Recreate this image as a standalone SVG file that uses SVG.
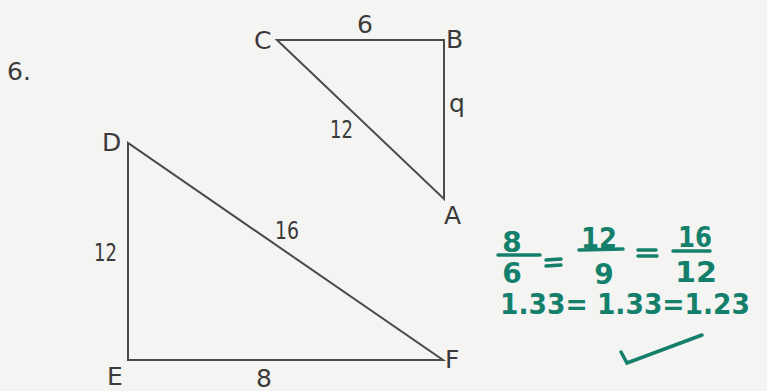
<svg xmlns="http://www.w3.org/2000/svg" width="767" height="391" viewBox="0 0 767 391">
<style>
.lbl{font-family:"DejaVu Sans","Liberation Sans",sans-serif;font-size:25px;fill:#3a3a3a}
.edge{stroke:#4a4a4a;stroke-width:2;fill:none;stroke-linejoin:miter}
.g{font-family:"DejaVu Sans","Liberation Sans",sans-serif;font-weight:bold;fill:#14806c;font-size:28px}
.gl{stroke:#14806c;stroke-width:3.5;stroke-linecap:round;fill:none}
</style>
<rect width="767" height="391" fill="#f4f4f2"/>
<text class="lbl" x="7" y="80">6.</text>
<g id="triangle-CBA">
<path class="edge" d="M277 40 L444 40 L444 199 Z"/>
<text class="lbl" x="254" y="49">C</text>
<text class="lbl" x="446" y="48">B</text>
<text class="lbl" x="444" y="224">A</text>
<text class="lbl" x="357" y="33">6</text>
<text class="lbl" x="449" y="112">q</text>
<text class="lbl" x="330" y="138" textLength="23" lengthAdjust="spacingAndGlyphs">12</text>
</g>
<g id="triangle-DEF">
<path class="edge" d="M128 143 L128 360 L443 360 Z"/>
<text class="lbl" x="102" y="151">D</text>
<text class="lbl" x="107" y="385">E</text>
<text class="lbl" x="445" y="368">F</text>
<text class="lbl" x="256" y="387" font-size="24">8</text>
<text class="lbl" x="94" y="261" textLength="23" lengthAdjust="spacingAndGlyphs">12</text>
<text class="lbl" x="275" y="239" textLength="24" lengthAdjust="spacingAndGlyphs">16</text>
</g>
<g id="work">
<text class="g" x="512" y="252" text-anchor="middle">8</text>
<line class="gl" x1="498" y1="255" x2="540" y2="255"/>
<text class="g" x="512" y="283" text-anchor="middle">6</text>
<line class="gl" x1="546" y1="260" x2="561" y2="259"/>
<line class="gl" x1="546" y1="266" x2="561" y2="265"/>
<text class="g" x="581" y="248" textLength="36" lengthAdjust="spacingAndGlyphs">12</text>
<line class="gl" x1="579" y1="250" x2="623" y2="249"/>
<text class="g" x="604" y="284" text-anchor="middle">9</text>
<line class="gl" x1="638" y1="250" x2="656" y2="250"/>
<line class="gl" x1="638" y1="256" x2="657" y2="256"/>
<text class="g" x="678" y="247" textLength="34" lengthAdjust="spacingAndGlyphs">16</text>
<line class="gl" x1="673" y1="251" x2="710" y2="251"/>
<text class="g" x="675" y="282" textLength="42" lengthAdjust="spacingAndGlyphs">12</text>
<text class="g" x="500" y="314" font-size="22" textLength="250" lengthAdjust="spacingAndGlyphs">1.33= 1.33=1.23</text>
<path class="gl" d="M621 352 L627 363 L702 335"/>
</g>
</svg>
